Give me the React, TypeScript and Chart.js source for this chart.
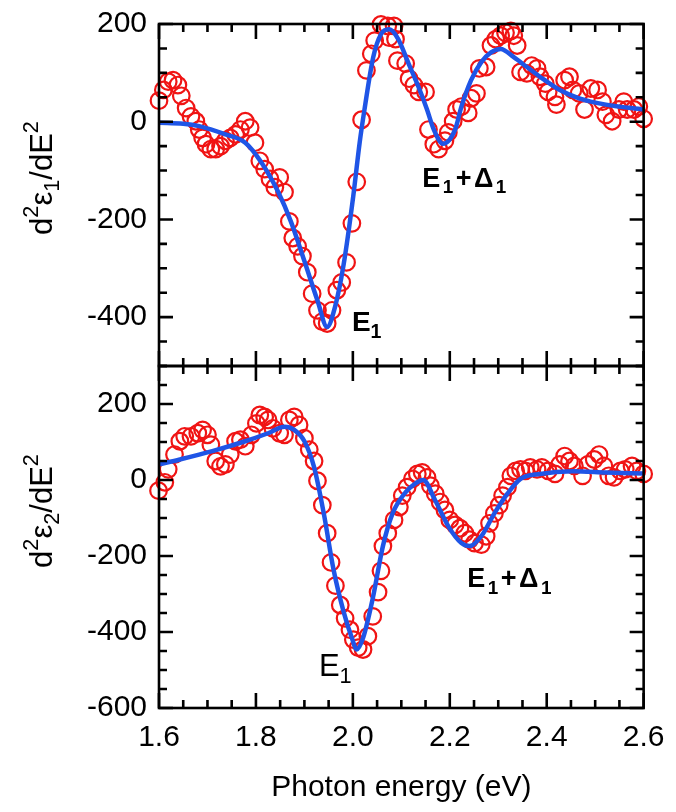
import React, { useEffect, useRef } from 'react';
import { Chart, registerables } from 'chart.js';

Chart.register(...registerables);

const FONT = "'Liberation Sans', Arial, Helvetica, sans-serif";
const RED = '#f01414';
const BLUE = '#1f55e6';

// ---- top panel: d2 eps1 / dE2 ----
const topE = [1.600, 1.609, 1.619, 1.629, 1.639, 1.646, 1.656, 1.666, 1.676, 1.683, 1.690, 1.697, 1.707, 1.717, 1.727, 1.737, 1.747, 1.758, 1.768, 1.778, 1.788, 1.798, 1.808, 1.818, 1.829, 1.839, 1.849, 1.859, 1.869, 1.876, 1.886, 1.896, 1.906, 1.916, 1.927, 1.937, 1.947, 1.957, 1.967, 1.977, 1.987, 1.998, 2.008, 2.018, 2.028, 2.038, 2.045, 2.058, 2.072, 2.075, 2.085, 2.088, 2.092, 2.109, 2.116, 2.126, 2.136, 2.150, 2.156, 2.167, 2.177, 2.190, 2.197, 2.207, 2.214, 2.224, 2.238, 2.244, 2.255, 2.261, 2.275, 2.285, 2.295, 2.305, 2.315, 2.326, 2.332, 2.339, 2.346, 2.359, 2.369, 2.380, 2.386, 2.397, 2.403, 2.417, 2.420, 2.437, 2.447, 2.454, 2.467, 2.478, 2.491, 2.505, 2.515, 2.522, 2.535, 2.549, 2.559, 2.566, 2.580, 2.590, 2.600];
const topVal = [43, 65, 82, 85, 75, 53, 28, 11, 1, -16, -33, -46, -56, -56, -50, -39, -33, -26, -16, 1, -12, -43, -80, -97, -117, -134, -114, -144, -204, -238, -255, -275, -308, -352, -386, -409, -413, -386, -345, -329, -288, -208, -123, 4, 105, 139, 166, 199, 196, 172, 196, 169, 125, 119, 88, 75, 61, 61, -16, -46, -56, -39, -22, 1, 25, 31, 18, 48, 58, 109, 112, 156, 169, 176, 182, 186, 176, 156, 102, 99, 115, 109, 92, 78, 61, 51, 35, 85, 92, 65, 58, 25, 68, 65, 41, 14, 1, 25, 41, 25, 25, 31, 6];

const topFitE = [1.600, 1.650, 1.683, 1.737, 1.778, 1.811, 1.846, 1.872, 1.900, 1.927, 1.947, 1.963, 1.981, 2.001, 2.014, 2.024, 2.042, 2.058, 2.075, 2.093, 2.115, 2.136, 2.153, 2.167, 2.186, 2.211, 2.224, 2.244, 2.265, 2.285, 2.305, 2.332, 2.359, 2.386, 2.427, 2.467, 2.522, 2.600];
const topFitVal = [-2, -4, -9, -26, -43, -83, -144, -204, -285, -366, -420, -380, -292, -151, -43, 25, 132, 179, 189, 170, 119, 70, 25, -16, -45, -16, 31, 85, 122, 142, 149, 132, 112, 92, 65, 48, 35, 25];

// ---- bottom panel: d2 eps2 / dE2 ----
const botE = [1.599, 1.612, 1.619, 1.632, 1.643, 1.653, 1.666, 1.680, 1.690, 1.700, 1.707, 1.717, 1.727, 1.737, 1.747, 1.758, 1.768, 1.778, 1.791, 1.801, 1.808, 1.818, 1.825, 1.835, 1.849, 1.859, 1.869, 1.879, 1.889, 1.900, 1.910, 1.920, 1.927, 1.937, 1.947, 1.955, 1.964, 1.974, 1.984, 1.994, 2.001, 2.011, 2.021, 2.031, 2.041, 2.052, 2.058, 2.062, 2.072, 2.085, 2.096, 2.102, 2.112, 2.123, 2.133, 2.143, 2.153, 2.160, 2.170, 2.180, 2.190, 2.200, 2.211, 2.221, 2.231, 2.241, 2.251, 2.265, 2.275, 2.282, 2.292, 2.302, 2.309, 2.319, 2.326, 2.336, 2.346, 2.356, 2.366, 2.380, 2.390, 2.403, 2.417, 2.427, 2.437, 2.447, 2.457, 2.474, 2.485, 2.498, 2.508, 2.518, 2.528, 2.539, 2.552, 2.562, 2.576, 2.586, 2.600];
const botVal = [-28, -6, 28, 67, 102, 115, 115, 123, 132, 119, 93, 50, 36, 41, 67, 102, 106, 89, 119, 149, 171, 166, 158, 136, 123, 119, 158, 166, 145, 110, 80, 50, -2, -66, -140, -217, -278, -329, -364, -394, -420, -441, -446, -411, -359, -295, -239, -174, -140, -105, -71, -41, -19, 3, 16, 20, 7, -15, -36, -58, -79, -105, -118, -127, -140, -157, -166, -170, -148, -114, -88, -66, -41, -19, 11, 24, 28, 24, 33, 28, 33, 24, 16, 41, 63, 50, 37, 11, 41, 54, 67, 37, 11, 7, 24, 28, 37, 24, 16];

const botFitE = [1.600, 1.643, 1.710, 1.778, 1.825, 1.859, 1.879, 1.900, 1.920, 1.940, 1.960, 1.981, 1.998, 2.008, 2.021, 2.041, 2.062, 2.082, 2.109, 2.130, 2.145, 2.170, 2.197, 2.224, 2.241, 2.265, 2.292, 2.319, 2.346, 2.386, 2.454, 2.522, 2.600];
const botFitVal = [41, 54, 76, 102, 123, 140, 132, 102, 34, -88, -235, -347, -416, -446, -416, -312, -174, -88, -32, -8, 0, -54, -122, -166, -174, -148, -88, -36, 3, 16, 23, 20, 17];

// axis ranges / ticks
const xMin = 1.6, xMax = 2.6, xMajor = 0.2, xMinor = 0.05;
const topMin = -500, topMax = 200;
const botMin = -600, botMax = 300;
const yMajor = 200, yMinor = 50;
const xTitle = 'Photon energy (eV)';

type Seg = { t: string; k?: 'sub' | 'sup' };
const topYTitle: Seg[] = [{ t: 'd' }, { t: '2', k: 'sup' }, { t: 'ε' }, { t: '1', k: 'sub' }, { t: '/dE' }, { t: '2', k: 'sup' }];
const botYTitle: Seg[] = [{ t: 'd' }, { t: '2', k: 'sup' }, { t: 'ε' }, { t: '2', k: 'sub' }, { t: '/dE' }, { t: '2', k: 'sup' }];
const labE1: Seg[] = [{ t: 'E' }, { t: '1', k: 'sub' }];
const labE1D1: Seg[] = [{ t: 'E' }, { t: '1', k: 'sub' }, { t: '+' }, { t: 'Δ' }, { t: '1', k: 'sub' }];

const annotations: { segs: Seg[]; x: number; y: number; axis: string; size: number; weight: string }[] = [
  { segs: labE1, x: 1.998, y: -429, axis: 'yTop', size: 28, weight: 'bold' },
  { segs: labE1D1, x: 2.143, y: -133, axis: 'yTop', size: 27, weight: 'bold' },
  { segs: labE1, x: 1.930, y: -515, axis: 'yBot', size: 31, weight: 'normal' },
  { segs: labE1D1, x: 2.236, y: -282, axis: 'yBot', size: 27, weight: 'bold' },
];

function drawRich(ctx: CanvasRenderingContext2D, x: number, y: number, segs: Seg[], size: number, weight: string, align: 'left' | 'center', gap = 0) {
  const fonts = segs.map((s) => `${weight} ${s.k ? size * 0.7 : size}px ${FONT}`);
  let w = 0;
  segs.forEach((s, i) => {
    ctx.font = fonts[i];
    w += ctx.measureText(s.t).width + (i > 0 ? gap : 0);
  });
  let cx = align === 'center' ? x - w / 2 : x;
  ctx.textAlign = 'left';
  ctx.textBaseline = 'alphabetic';
  segs.forEach((s, i) => {
    ctx.font = fonts[i];
    const dy = s.k === 'sub' ? size * 0.24 : s.k === 'sup' ? -size * 0.45 : 0;
    if (i > 0) cx += gap;
    ctx.fillText(s.t, cx, y + dy);
    cx += ctx.measureText(s.t).width;
  });
}

const pts = (xs: number[], ys: number[]) => xs.map((x, i) => ({ x, y: ys[i] }));

export default function App() {
  const ref = useRef<HTMLCanvasElement>(null);

  useEffect(() => {
    const canvas = ref.current;
    if (!canvas) return;

    const framePlugin = {
      id: 'frame',
      afterDraw(chart: any) {
        const ctx: CanvasRenderingContext2D = chart.ctx;
        const xs = chart.scales.x;
        const { left, right } = chart.chartArea;
        ctx.save();
        ctx.strokeStyle = '#000';
        ctx.lineWidth = 2.6;
        for (const id of ['yTop', 'yBot']) {
          const ys = chart.scales[id];
          const top = ys.top;
          const bottom = ys.bottom;
          ctx.strokeRect(left, top, right - left, bottom - top);
          ctx.beginPath();
          const nx = Math.round((xMax - xMin) / xMinor);
          const per = Math.round(xMajor / xMinor);
          for (let i = 0; i <= nx; i++) {
            const px = xs.getPixelForValue(xMin + i * xMinor);
            const len = i % per === 0 ? 15 : 8;
            ctx.moveTo(px, top);
            ctx.lineTo(px, top + len);
            ctx.moveTo(px, bottom);
            ctx.lineTo(px, bottom - len);
          }
          for (let v = ys.min; v <= ys.max; v += yMinor) {
            const py = ys.getPixelForValue(v);
            const len = v % yMajor === 0 ? 14 : 8;
            ctx.moveTo(left, py);
            ctx.lineTo(left + len, py);
            ctx.moveTo(right, py);
            ctx.lineTo(right - len, py);
          }
          ctx.stroke();
        }
        ctx.fillStyle = '#000';
        const titles: [string, Seg[], number][] = [
          ['yTop', topYTitle, 154],
          ['yBot', botYTitle, 145],
        ];
        for (const [id, segs, off] of titles) {
          const ys = chart.scales[id];
          ctx.save();
          ctx.translate(52, ys.top + off);
          ctx.rotate(-Math.PI / 2);
          drawRich(ctx, 0, 0, segs, 31, 'normal', 'center');
          ctx.restore();
        }
        for (const a of annotations) {
          const px = xs.getPixelForValue(a.x);
          const py = chart.scales[a.axis].getPixelForValue(a.y);
          drawRich(ctx, px, py, a.segs, a.size, a.weight, 'left', a.segs.length > 2 ? 2.5 : 0);
        }
        ctx.restore();
      },
    };

    const yCommon = (min: number, max: number) => ({
      type: 'linear' as const,
      position: 'left' as const,
      stack: 'panels',
      stackWeight: 1,
      min,
      max,
      grid: { display: false, drawTicks: false },
      border: { display: false },
      ticks: {
        stepSize: yMajor,
        autoSkip: false,
        padding: 12,
        color: '#000',
        font: { family: FONT, size: 30, lineHeight: 0.8 },
        callback: (v: any) => (Number(v) % yMajor === 0 ? String(v) : ''),
      },
      afterFit: (s: any) => {
        s.width = 159;
      },
    });

    const circle = (data: any[], axis: string) => ({
      type: 'scatter' as const,
      data,
      yAxisID: axis,
      xAxisID: 'x',
      showLine: false,
      pointStyle: 'circle',
      pointRadius: 8.3,
      pointBorderWidth: 2.2,
      pointBorderColor: RED,
      pointBackgroundColor: 'rgba(0,0,0,0)',
      borderColor: RED,
      backgroundColor: 'rgba(0,0,0,0)',
      clip: false as any,
      order: 2,
    });
    const fit = (data: any[], axis: string) => ({
      type: 'line' as const,
      data,
      yAxisID: axis,
      xAxisID: 'x',
      borderColor: BLUE,
      borderWidth: 4.5,
      pointRadius: 0,
      fill: false,
      cubicInterpolationMode: 'monotone' as const,
      order: 1,
    });

    const chart = new Chart(canvas, {
      type: 'scatter',
      data: {
        datasets: [
          fit(pts(topFitE, topFitVal), 'yTop'),
          fit(pts(botFitE, botFitVal), 'yBot'),
          circle(pts(topE, topVal), 'yTop'),
          circle(pts(botE, botVal), 'yBot'),
        ] as any,
      },
      options: {
        responsive: false,
        animation: false,
        events: [],
        layout: { padding: { left: 0, right: 24, top: 13, bottom: 0 } },
        plugins: { legend: { display: false }, tooltip: { enabled: false } },
        scales: {
          x: {
            type: 'linear',
            position: 'bottom',
            min: xMin,
            max: xMax,
            grid: { display: false, drawTicks: false },
            border: { display: false },
            ticks: {
              stepSize: xMajor,
              autoSkip: false,
              maxRotation: 0,
              padding: 11.5,
              color: '#000',
              font: { family: FONT, size: 30, lineHeight: 1.2 },
              callback: (v: any) => Number(v).toFixed(1),
            },
            title: {
              display: true,
              text: xTitle,
              color: '#000',
              font: { family: FONT, size: 30, lineHeight: 1.2 },
              padding: { top: 0, bottom: 6 },
            },
            afterFit: (s: any) => {
              s.height = 104;
            },
          },
          yBot: yCommon(botMin, botMax),
          yTop: yCommon(topMin, topMax),
        } as any,
      },
      plugins: [framePlugin],
    });

    return () => chart.destroy();
  }, []);

  return (
    <div style={{ position: 'fixed', left: 0, top: 0, width: 676, height: 812, background: '#fff' }}>
      <canvas ref={ref} width={676} height={812} style={{ display: 'block' }} />
    </div>
  );
}
